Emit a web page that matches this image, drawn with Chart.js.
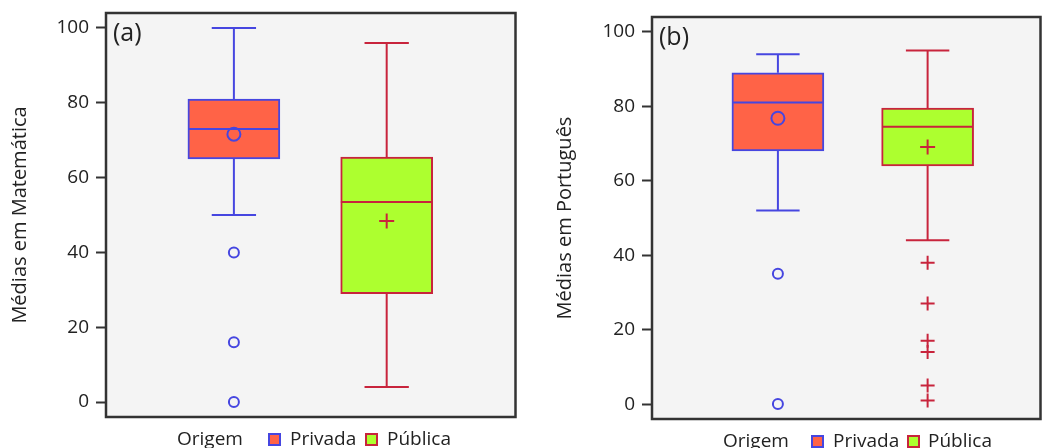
<!DOCTYPE html>
<html>
<head>
<meta charset="utf-8">
<script src="https://cdn.jsdelivr.net/npm/chart.js@4.4.1/dist/chart.umd.min.js"></script>
<style>
    body { margin: 0; background: #fff; font-family: 'Open Sans', sans-serif; }
    #wrap { position: relative; width: 1050px; height: 448px; overflow: hidden; }
    .panel { position: absolute; top: 0; width: 525px; height: 448px; }
    .legend { position: absolute; font-size: 19px; line-height: 19px; color: #222; white-space: nowrap; }
    .legend span { position: absolute; top: 0; }
    .legend .box { width: 9px; height: 9px; border: 2px solid; top: 4px; }
</style>
</head>
<body>
<div id="wrap">
    <div class="panel" style="left:0"><canvas id="chartA" width="525" height="448"></canvas></div>
    <div class="panel" style="left:525px"><canvas id="chartB" width="525" height="448"></canvas></div>
    <div class="legend" style="left:177px; top:429px">
        <span style="left:0">Origem</span>
        <span class="box" style="left:91px; background:#ff6347; border-color:#4646e0"></span>
        <span style="left:113px">Privada</span>
        <span class="box" style="left:188px; background:#adff2f; border-color:#c8243c"></span>
        <span style="left:210px">Pública</span>
    </div>
    <div class="legend" style="left:723px; top:431px">
        <span style="left:0">Origem</span>
        <span class="box" style="left:88px; background:#ff6347; border-color:#4646e0"></span>
        <span style="left:110px">Privada</span>
        <span class="box" style="left:184px; background:#adff2f; border-color:#c8243c"></span>
        <span style="left:205px">Pública</span>
    </div>
</div>
<script>
const categories = ['Privada', 'Pública'];
const yTicks = [0, 20, 40, 60, 80, 100];

// box values: [whisker low, Q1, median, Q3, whisker high]
const mathPrivada = [50, 65, 73, 81, 100];
const mathPublica = [4, 29, 53.5, 65.5, 96];
const mathMeans = [71.6, 48.4];
const mathOutPrivada = [40, 16, 0];
const mathOutPublica = [];

const portPrivada = [52, 68, 81, 89, 94];
const portPublica = [44, 64, 74.5, 79.5, 95];
const portMeans = [76.8, 69.1];
const portOutPrivada = [35, 0];
const portOutPublica = [38, 27, 17, 14, 5, 1];

const lineColors = ['#4646e0', '#c8243c'];
const fillColors = ['#ff6347', '#adff2f'];
const markStyles = ['circle', 'cross'];
const boxHalf = 0.3;
const capHalf = 0.145;

Chart.defaults.font.family = "'Open Sans', sans-serif";
Chart.defaults.color = '#222';

function buildDatasets(boxes, means, outliers) {
    const datasets = [];
    // whiskers, caps and median as broken line segments
    boxes.forEach((b, i) => {
        const x = i + 1;
        const [lo, q1, med, q3, hi] = b;
        datasets.push({
            type: 'line',
            data: [
                {x: x, y: q3}, {x: x, y: hi}, {x: x, y: null},
                {x: x - capHalf, y: hi}, {x: x + capHalf, y: hi}, {x: x, y: null},
                {x: x, y: q1}, {x: x, y: lo}, {x: x, y: null},
                {x: x - capHalf, y: lo}, {x: x + capHalf, y: lo}, {x: x, y: null},
                {x: x - boxHalf, y: med}, {x: x + boxHalf, y: med}
            ],
            borderColor: lineColors[i],
            borderWidth: 2,
            pointRadius: 0,
            spanGaps: false,
            order: 2
        });
    });
    // boxes as floating bars
    datasets.push({
        type: 'bar',
        data: boxes.map((b, i) => ({x: i + 1, y: [b[1], b[3]]})),
        backgroundColor: fillColors,
        borderColor: lineColors,
        borderWidth: 2,
        borderSkipped: false,
        barThickness: 92,
        grouped: false,
        order: 3
    });
    // means
    means.forEach((m, i) => {
        datasets.push({
            type: 'scatter',
            data: [{x: i + 1, y: m}],
            pointStyle: markStyles[i],
            pointRadius: i === 0 ? 6.5 : 7.5,
            borderColor: lineColors[i],
            backgroundColor: 'rgba(0,0,0,0)',
            borderWidth: 2,
            order: 1
        });
    });
    // outliers
    outliers.forEach((list, i) => {
        datasets.push({
            type: 'scatter',
            data: list.map(v => ({x: i + 1, y: v})),
            pointStyle: markStyles[i],
            pointRadius: i === 0 ? 5 : 7,
            borderColor: lineColors[i],
            backgroundColor: 'rgba(0,0,0,0)',
            borderWidth: 2,
            order: 1
        });
    });
    return datasets;
}

const framePlugin = {
    id: 'frame',
    beforeDatasetsDraw(chart) {
        const a = chart.chartArea;
        const ctx = chart.ctx;
        ctx.save();
        ctx.fillStyle = '#f4f4f4';
        ctx.fillRect(a.left, a.top, a.right - a.left, a.bottom - a.top);
        ctx.restore();
    },
    afterDraw(chart, args, opts) {
        const a = chart.chartArea;
        const ctx = chart.ctx;
        ctx.save();
        ctx.strokeStyle = '#333';
        ctx.lineWidth = 2.5;
        ctx.strokeRect(a.left, a.top, a.right - a.left, a.bottom - a.top);
        ctx.fillStyle = '#222';
        ctx.font = "25px 'Open Sans'";
        ctx.textBaseline = 'middle';
        ctx.fillText(opts.label, a.left + 7, a.top + 21);
        ctx.restore();
    }
};

function makeChart(id, boxes, means, outliers, cfg) {
    return new Chart(document.getElementById(id), {
        type: 'bar',
        data: { datasets: buildDatasets(boxes, means, outliers) },
        plugins: [framePlugin],
        options: {
            responsive: false,
            animation: false,
            events: [],
            layout: { padding: cfg.padding },
            plugins: {
                legend: { display: false },
                tooltip: { enabled: false },
                frame: { label: cfg.label }
            },
            scales: {
                x: { type: 'linear', offset: false, min: cfg.xMin, max: cfg.xMax, display: false },
                y: {
                    min: -4, max: 104,
                    afterBuildTicks: s => { s.ticks = yTicks.map(v => ({value: v})); },
                    afterFit: s => { s.width = cfg.axisWidth; s.paddingTop = 0; s.paddingBottom = 0; },
                    ticks: { font: {size: 19}, color: '#222', padding: 7 },
                    grid: { drawOnChartArea: false, drawTicks: true, tickLength: 10, tickColor: '#333', tickWidth: 2 },
                    border: { display: false },
                    title: { display: true, text: cfg.title, font: {size: 20}, color: '#222', padding: {top: cfg.titlePad, bottom: 0} }
                }
            }
        }
    });
}

makeChart('chartA', [mathPrivada, mathPublica], mathMeans, [mathOutPrivada, mathOutPublica], {
    label: '(a)', title: 'Médias em Matemática', axisWidth: 106, titlePad: 8,
    xMin: 0.163, xMax: 2.843, padding: {left: 0, right: 9, top: 13, bottom: 31}
});
makeChart('chartB', [portPrivada, portPublica], portMeans, [portOutPrivada, portOutPublica], {
    label: '(b)', title: 'Médias em Português', axisWidth: 127, titlePad: 28,
    xMin: 0.159, xMax: 2.754, padding: {left: 0, right: 1, top: 17, bottom: 29}
});
</script>
</body>
</html>
